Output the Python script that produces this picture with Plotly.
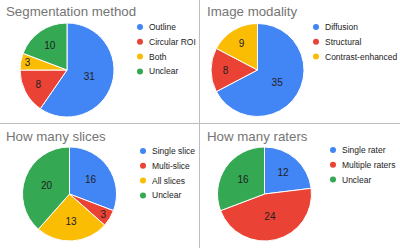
import plotly.graph_objects as go

W, H = 400, 248

COLORS = ["#4285F4", "#EA4335", "#FBBC04", "#34A853"]

seg_labels = ["Outline", "Circular ROI", "Both", "Unclear"]
seg_values = [31, 8, 3, 10]

mod_labels = ["Diffusion", "Structural", "Contrast-enhanced"]
mod_values = [35, 8, 9]

slice_labels = ["Single slice", "Multi-slice", "All slices", "Unclear"]
slice_values = [16, 3, 13, 20]

rater_labels = ["Single rater", "Multiple raters", "Unclear"]
rater_values = [12, 24, 16]
rater_colors = ["#4285F4", "#EA4335", "#34A853"]

titles = ["Segmentation method", "Image modality", "How many slices", "How many raters"]

FONT = "Liberation Sans, Arial, sans-serif"


def px(x):
    return x / W


def py(y):
    return 1 - y / H


# layout per panel: pie box (pixels), legend marker x, legend text x, legend first row y
panels = [
    dict(labels=seg_labels, values=seg_values, colors=COLORS,
         box=(20, 23, 114, 117), mx=140, tx=147, ty=27, tt=(4, 12)),
    dict(labels=mod_labels, values=mod_values, colors=COLORS[:3],
         box=(211, 23, 304, 117), mx=316, tx=323, ty=27, tt=(205, 12)),
    dict(labels=slice_labels, values=slice_values, colors=COLORS,
         box=(22, 147, 117, 241), mx=143, tx=150, ty=151, tt=(4, 136)),
    dict(labels=rater_labels, values=rater_values, colors=rater_colors,
         box=(217, 147, 312, 241), mx=333, tx=340, ty=150, tt=(205, 136)),
]

ROW = 14.8

fig = go.Figure()
annotations = []
shapes = []

for i, p in enumerate(panels):
    x0, y0, x1, y1 = p["box"]
    fig.add_trace(go.Pie(
        labels=p["labels"], values=p["values"],
        marker=dict(colors=p["colors"], line=dict(color="white", width=1)),
        sort=False, direction="clockwise", rotation=0,
        textinfo="value", textposition="inside",
        insidetextorientation="horizontal",
        textfont=dict(family=FONT, size=10, color="#222222"),
        domain=dict(x=[px(x0), px(x1)], y=[py(y1), py(y0)]),
        showlegend=False, hoverinfo="label+value+percent",
    ))
    # title
    annotations.append(dict(
        text=titles[i], x=px(p["tt"][0]), y=py(p["tt"][1]),
        xref="paper", yref="paper", xanchor="left", yanchor="middle",
        showarrow=False,
        font=dict(family=FONT, size=13.3, color="#757575"),
    ))
    # legend
    for j, (lab, col) in enumerate(zip(p["labels"], p["colors"])):
        yy = p["ty"] + j * ROW
        shapes.append(dict(
            type="circle", xref="paper", yref="paper",
            xsizemode="pixel", ysizemode="pixel",
            xanchor=px(p["mx"]), yanchor=py(yy),
            x0=-3, x1=3, y0=-3, y1=3,
            fillcolor=col, line=dict(width=0),
        ))
        annotations.append(dict(
            text=lab, x=px(p["tx"]), y=py(yy),
            xref="paper", yref="paper", xanchor="left", yanchor="middle",
            showarrow=False,
            font=dict(family=FONT, size=8.5, color="#222222"),
        ))

# panel dividers
shapes.append(dict(type="line", xref="paper", yref="paper",
                   x0=px(199.5), x1=px(199.5), y0=0, y1=1,
                   line=dict(color="#bdbdbd", width=1)))
shapes.append(dict(type="line", xref="paper", yref="paper",
                   x0=0, x1=1, y0=py(123.5), y1=py(123.5),
                   line=dict(color="#bdbdbd", width=1)))

fig.update_layout(
    width=W, height=H,
    margin=dict(l=0, r=0, t=0, b=0),
    paper_bgcolor="white", plot_bgcolor="white",
    annotations=annotations, shapes=shapes,
    showlegend=False,
)

fig.write_html(
    "out.html",
    include_plotlyjs=True,
    config={"displayModeBar": False},
    post_script="document.body.style.margin='0';document.body.style.overflow='hidden';",
)
